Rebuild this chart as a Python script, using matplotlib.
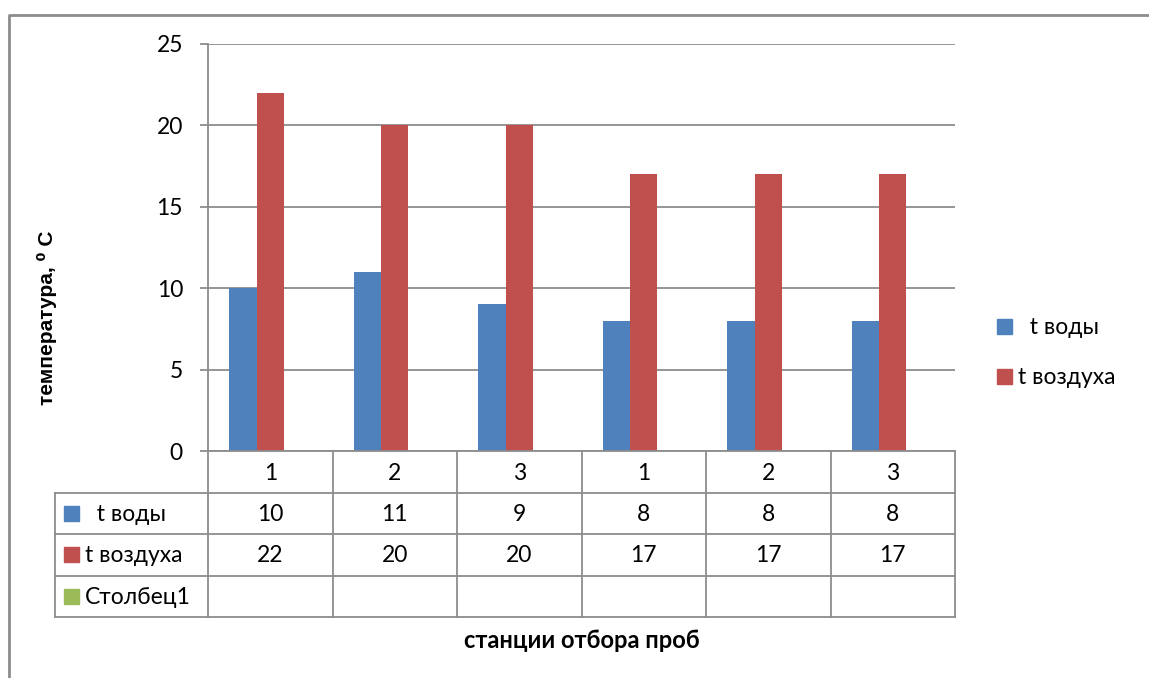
import matplotlib
matplotlib.use("Agg")
import matplotlib.pyplot as plt
from matplotlib.patches import Rectangle

# data
stations = ["1", "2", "3", "1", "2", "3"]
series_names = ["  t воды", "t воздуха", "Столбец1"]
t_water = [10, 11, 9, 8, 8, 8]
t_air = [22, 20, 20, 17, 17, 17]
col1 = [None] * 6
y_ticks = [0, 5, 10, 15, 20, 25]

colors = ["#4F81BD", "#C0504D", "#9BBB59"]
grid_c = "#8c8c8c"
W, H = 1149, 678
FONT = "Lato"
FS = 16.5

fig = plt.figure(figsize=(W / 100, H / 100), dpi=100)

# pixel layout
left, right, top, zero = 208, 955, 44, 451
rows = [451, 493, 534, 576, 617]
tab_left = 55

ax = fig.add_axes([left / W, 1 - zero / H, (right - left) / W, (zero - top) / H])
n = len(stations)
x = list(range(n))
bw = 0.22
for k, vals in enumerate([t_water, t_air, col1]):
    vv = [v if v is not None else 0 for v in vals]
    ax.bar([i + (k - 1) * bw for i in x], vv, width=bw, color=colors[k], zorder=3)
ax.set_xlim(-0.5, n - 0.5)
ax.set_ylim(0, 25)
ax.set_yticks(y_ticks)
ax.set_yticklabels([str(t) for t in y_ticks], fontsize=FS, family=FONT)
ax.tick_params(axis="y", length=6, color=grid_c, width=1.3, pad=12)
ax.set_xticks([])
ax.grid(axis="y", color=grid_c, linewidth=1.3, zorder=0)
for s in ["top", "right", "bottom"]:
    ax.spines[s].set_visible(False)
ax.spines["left"].set_color(grid_c)
ax.spines["left"].set_linewidth(1.3)

# overlay in pixel coordinates for frame, table, legend, labels
ov = fig.add_axes([0, 0, 1, 1], zorder=5)
ov.set_xlim(0, W)
ov.set_ylim(H, 0)
ov.axis("off")
ov.patch.set_alpha(0)

# outer frame
ov.plot([9, 9, W], [H, 15, 15], color="#8c8c8c", lw=2)

cw = (right - left) / n
colx = [left + i * cw for i in range(n + 1)]
# table grid
ov.plot([left, right], [rows[0], rows[0]], color=grid_c, lw=1.3)
for r in rows[1:]:
    ov.plot([tab_left, right], [r, r], color=grid_c, lw=1.3)
for cx in colx:
    ov.plot([cx, cx], [rows[0], rows[-1]], color=grid_c, lw=1.3)
ov.plot([tab_left, tab_left], [rows[1], rows[-1]], color=grid_c, lw=1.3)

# header row
for i, s in enumerate(stations):
    ov.text(colx[i] + cw / 2, (rows[0] + rows[1]) / 2 + 1, s, ha="center", va="center",
            fontsize=FS, family=FONT)
# data rows
table_vals = [t_water, t_air, col1]
for r, (name, vals) in enumerate(zip(series_names, table_vals)):
    yc = (rows[r + 1] + rows[r + 2]) / 2
    ov.add_patch(Rectangle((64, yc - 8), 15, 15, color=colors[r]))
    ov.text(85, yc + 1, name, ha="left", va="center", fontsize=FS, family=FONT)
    for i, v in enumerate(vals):
        if v is not None:
            ov.text(colx[i] + cw / 2, yc + 1, str(v), ha="center", va="center",
                    fontsize=FS, family=FONT)

# legend
leg_y = [326, 376]
for k in range(2):
    ov.add_patch(Rectangle((997, leg_y[k] - 7), 15, 15, color=colors[k]))
    ov.text(1018, leg_y[k] + 1, series_names[k], ha="left", va="center",
            fontsize=FS, family=FONT)

# axis titles
ov.text(47, 318, "температура, ⁰ C", rotation=90, ha="center", va="center",
        fontsize=15, fontweight="bold", family=["Liberation Sans", "DejaVu Sans"])
ov.text(582, 640, "станции отбора проб", ha="center", va="center",
        fontsize=17, fontweight="bold", family=FONT)

fig.savefig("out.png", dpi=100)
